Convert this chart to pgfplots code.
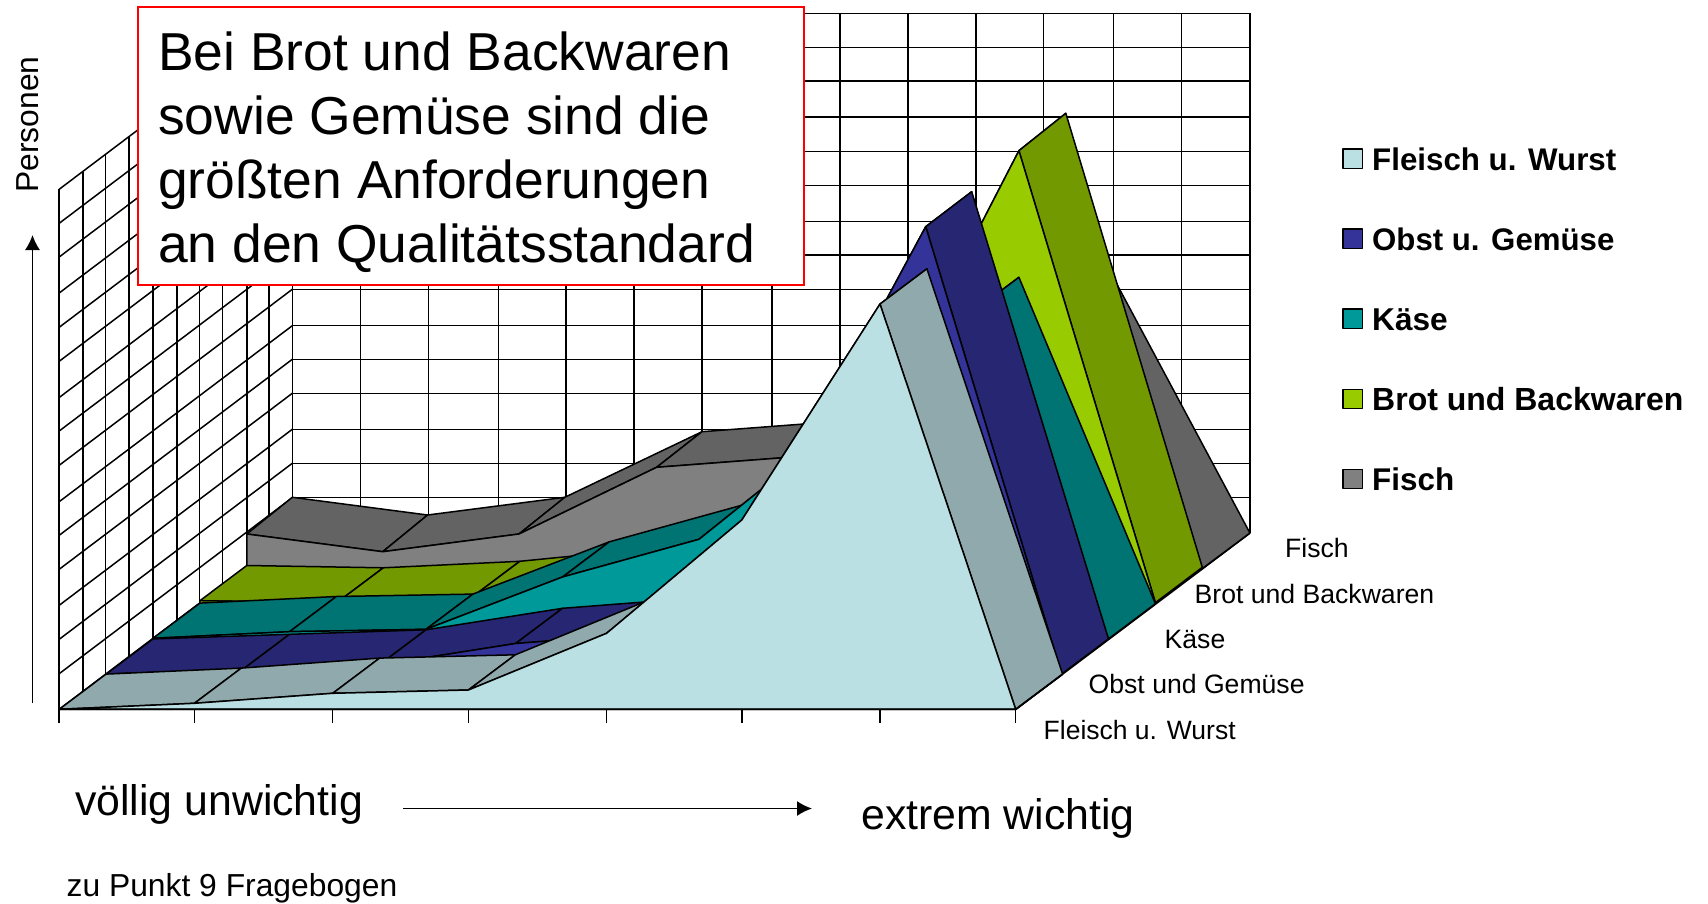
\documentclass[border=0pt]{standalone}
\usepackage{fontspec}
\setmainfont{Liberation Sans}
\usepackage{pgfplots}
\pgfplotsset{compat=1.18}
\usetikzlibrary{arrows.meta}

\definecolor{cA}{HTML}{BBE0E3}\definecolor{dA}{HTML}{8FA9AC}
\definecolor{cB}{HTML}{333399}\definecolor{dB}{HTML}{262673}
\definecolor{cC}{HTML}{009999}\definecolor{dC}{HTML}{007373}
\definecolor{cD}{HTML}{99CC00}\definecolor{dD}{HTML}{739900}
\definecolor{cE}{HTML}{808080}\definecolor{dE}{HTML}{636363}

\pgfplotsset{
  gl/.style={black, line width=1.5pt, forget plot},
  face/.style={draw=black, fill=#1, line width=1.5pt, line join=round, forget plot},
}
% text placed with baseline at a pixel position
\newcommand{\lbl}[4]{\node[anchor=base west, inner sep=0pt, font=\fontsize{#1}{#1}\selectfont] at (axis cs:#2,#3) {#4};}

\begin{document}
\begin{tikzpicture}
\begin{axis}[
  scale only axis, width=1708pt, height=904pt,
  xmin=0, xmax=1708, ymin=0, ymax=904,
  y dir=reverse, hide axis, clip=false,
]
\addplot[draw=none, forget plot] coordinates {(0,0) (1708,904)};

% back wall
\pgfplotsinvokeforeach{292.3,360.7,428.6,498.5,565.8,634.2,702,772,840,908,976,1043.7,1113.7,1181.7,1250}{
  \addplot[gl] coordinates {(#1,13.3) (#1,533)};
}
\pgfplotsinvokeforeach{13.3,47.3,81,117,151.3,185.3,221.5,255,289.3,325.7,359.3,393.3,429.3,463.3,497.7,533}{
  \addplot[gl] coordinates {(292.3,#1) (1250,#1)};
}
% side wall
\addplot[gl] coordinates {(59.2,189.3) (59.2,709.3)};
\addplot[gl] coordinates {(83.2,171.7) (83.2,691.7)};
\addplot[gl] coordinates {(105.6,154.1) (105.6,674.1)};
\addplot[gl] coordinates {(129,136.5) (129,656.5)};
\addplot[gl] coordinates {(153,118.9) (153,638.9)};
\addplot[gl] coordinates {(177,101.3) (177,621.3)};
\addplot[gl] coordinates {(199.5,83.7) (199.5,603.7)};
\addplot[gl] coordinates {(222.4,66.1) (222.4,586.1)};
\addplot[gl] coordinates {(247,48.5) (247,568.5)};
\addplot[gl] coordinates {(268.9,30.9) (268.9,550.9)};
\addplot[gl] coordinates {(59.2,189.3) (292.3,13.3)};
\addplot[gl] coordinates {(59.2,223.3) (292.3,47.3)};
\addplot[gl] coordinates {(59.2,257) (292.3,81)};
\addplot[gl] coordinates {(59.2,293) (292.3,117)};
\addplot[gl] coordinates {(59.2,327.3) (292.3,151.3)};
\addplot[gl] coordinates {(59.2,361.3) (292.3,185.3)};
\addplot[gl] coordinates {(59.2,397.5) (292.3,221.5)};
\addplot[gl] coordinates {(59.2,431) (292.3,255)};
\addplot[gl] coordinates {(59.2,465.3) (292.3,289.3)};
\addplot[gl] coordinates {(59.2,501.7) (292.3,325.7)};
\addplot[gl] coordinates {(59.2,535.3) (292.3,359.3)};
\addplot[gl] coordinates {(59.2,569.3) (292.3,393.3)};
\addplot[gl] coordinates {(59.2,605.3) (292.3,429.3)};
\addplot[gl] coordinates {(59.2,639.3) (292.3,463.3)};
\addplot[gl] coordinates {(59.2,673.7) (292.3,497.7)};
\addplot[gl] coordinates {(59.2,709.3) (292.3,533)};
% floor edges and ticks
\addplot[gl, line width=1.7pt] coordinates {(1015.7,709.3) (1250,533)};
\pgfplotsinvokeforeach{59.2,194.4,332.7,468.4,606.6,741.8,880,1015.7}{
  \addplot[gl] coordinates {(#1,709.3) (#1,722.5)};
}

% Fisch
\addplot[face=dE] coordinates {(246.8,534) (382.7,551.7) (427.6,515) (292.3,497.3)} -- cycle;
\addplot[face=dE] coordinates {(382.7,551.7) (519,534) (564.8,497.3) (427.6,515)} -- cycle;
\addplot[face=dE] coordinates {(519,534) (656.6,467.3) (702,431.7) (564.8,497.3)} -- cycle;
\addplot[face=dE] coordinates {(656.6,467.3) (792.8,457) (839.7,421.3) (702,431.7)} -- cycle;
\addplot[face=dE] coordinates {(792.8,457) (929.3,430) (976.2,395) (839.7,421.3)} -- cycle;
\addplot[face=dE] coordinates {(929.3,430) (1065.8,311.6) (1112.7,276.4) (976.2,395)} -- cycle;
\addplot[face=dE] coordinates {(1065.8,311.6) (1202.3,568.5) (1249.9,533) (1112.7,276.4)} -- cycle;
\addplot[face=cE] coordinates {(246.8,568.5) (246.8,534) (382.7,551.7) (519,534) (656.6,467.3) (792.8,457) (929.3,430) (1065.8,311.6) (1202.3,568.5)} -- cycle;

% Brot und Backwaren
\addplot[face=dD] coordinates {(199.9,600.7) (336.4,603) (383.3,567.8) (246.8,565.5)} -- cycle;
\addplot[face=dD] coordinates {(336.4,603) (472.9,596.5) (519.8,561.3) (383.3,567.8)} -- cycle;
\addplot[face=dD] coordinates {(472.9,596.5) (609.4,583) (656.3,547.8) (519.8,561.3)} -- cycle;
\addplot[face=dD] coordinates {(609.4,583) (745.9,548) (792.8,512.8) (656.3,547.8)} -- cycle;
\addplot[face=dD] coordinates {(745.9,548) (882.4,415.5) (929.3,380.3) (792.8,512.8)} -- cycle;
\addplot[face=dD] coordinates {(882.4,415.5) (1018.9,150.7) (1065.8,113.3) (929.3,380.3)} -- cycle;
\addplot[face=dD] coordinates {(1018.9,150.7) (1155.4,602.7) (1202.3,567.3) (1065.8,113.3)} -- cycle;
\addplot[face=cD] coordinates {(199.9,603.7) (199.9,600.7) (336.4,603) (472.9,596.5) (609.4,583) (745.9,548) (882.4,415.5) (1018.9,150.7) (1155.4,602.7)} -- cycle;

% Kaese
\addplot[face=dC] coordinates {(153,638.3) (289.5,631.7) (336.4,596.5) (199.9,603.1)} -- cycle;
\addplot[face=dC] coordinates {(289.5,631.7) (426,629.3) (472.9,594.1) (336.4,596.5)} -- cycle;
\addplot[face=dC] coordinates {(426,629.3) (562.5,577) (609.4,541.8) (472.9,594.1)} -- cycle;
\addplot[face=dC] coordinates {(562.5,577) (699,539.3) (745.9,504.1) (609.4,541.8)} -- cycle;
\addplot[face=dC] coordinates {(699,539.3) (835.5,430) (882.4,394.8) (745.9,504.1)} -- cycle;
\addplot[face=dC] coordinates {(835.5,430) (972,312.5) (1018.9,277.3) (882.4,394.8)} -- cycle;
\addplot[face=dC] coordinates {(972,312.5) (1108.5,638.9) (1155.4,603.7) (1018.9,277.3)} -- cycle;
\addplot[face=cC] coordinates {(153,638.9) (153,638.3) (289.5,631.7) (426,629.3) (562.5,577) (699,539.3) (835.5,430) (972,312.5) (1108.5,638.9)} -- cycle;

% Obst und Gemuese
\addplot[face=dB] coordinates {(106.1,674.1) (242.6,669.5) (289.5,634.3) (153,638.9)} -- cycle;
\addplot[face=dB] coordinates {(242.6,669.5) (379.1,665) (426,629.8) (289.5,634.3)} -- cycle;
\addplot[face=dB] coordinates {(379.1,665) (515.6,643.5) (562.5,608.3) (426,629.8)} -- cycle;
\addplot[face=dB] coordinates {(515.6,643.5) (652.1,633) (699,597.8) (562.5,608.3)} -- cycle;
\addplot[face=dB] coordinates {(652.1,633) (788.6,481) (835.5,445.8) (699,597.8)} -- cycle;
\addplot[face=dB] coordinates {(788.6,481) (925.7,226.7) (971.7,191.7) (835.5,445.8)} -- cycle;
\addplot[face=dB] coordinates {(925.7,226.7) (1061.6,674.1) (1108.5,638.9) (971.7,191.7)} -- cycle;
\addplot[face=cB] coordinates {(106.1,674.1) (242.6,669.5) (379.1,665) (515.6,643.5) (652.1,633) (788.6,481) (925.7,226.7) (1061.6,674.1)} -- cycle;

% Fleisch u. Wurst
\addplot[face=dA] coordinates {(59.2,709.3) (194.4,703.3) (241.3,668.1) (106.1,674.1)} -- cycle;
\addplot[face=dA] coordinates {(194.4,703.3) (332.7,693.3) (379.6,658.1) (241.3,668.1)} -- cycle;
\addplot[face=dA] coordinates {(332.7,693.3) (468.4,690) (515.3,654.8) (379.6,658.1)} -- cycle;
\addplot[face=dA] coordinates {(468.4,690) (606.6,633.3) (653.5,598.1) (515.3,654.8)} -- cycle;
\addplot[face=dA] coordinates {(606.6,633.3) (741.8,520) (788.7,484.8) (653.5,598.1)} -- cycle;
\addplot[face=dA] coordinates {(741.8,520) (880,304) (926.9,268.8) (788.7,484.8)} -- cycle;
\addplot[face=dA] coordinates {(880,304) (1015.7,709.3) (1062.6,674.1) (926.9,268.8)} -- cycle;
\addplot[face=cA] coordinates {(59.2,709.3) (194.4,703.3) (332.7,693.3) (468.4,690) (606.6,633.3) (741.8,520) (880,304) (1015.7,709.3)} -- cycle;
\addplot[gl, line width=1.7pt] coordinates {(59.2,709.3) (1015.7,709.3) (1062.6,674.1)};

% callout
\addplot[draw=red, fill=white, line width=1.8pt, forget plot] coordinates {(138,7.3) (804,7.3) (804,285) (138,285)} -- cycle;
\lbl{53.4}{158}{71}{Bei Brot und Backwaren}
\lbl{53.4}{158}{134.5}{sowie Gemüse sind die}
\lbl{53.4}{158}{199}{größten Anforderungen}
\lbl{53.4}{158}{262.5}{an den Qualitätsstandard}

% legend
\addplot[face=cA] coordinates {(1343,149) (1362.3,149) (1362.3,168.3) (1343,168.3)} -- cycle;
\addplot[face=cB] coordinates {(1343,229) (1362.3,229) (1362.3,248.3) (1343,248.3)} -- cycle;
\addplot[face=cC] coordinates {(1343,309) (1362.3,309) (1362.3,328.3) (1343,328.3)} -- cycle;
\addplot[face=cD] coordinates {(1343,389.3) (1362.3,389.3) (1362.3,408.7) (1343,408.7)} -- cycle;
\addplot[face=cE] coordinates {(1343,469.3) (1362.3,469.3) (1362.3,488.3) (1343,488.3)} -- cycle;
\lbl{31.3}{1372}{170.5}{\bfseries Fleisch u. Wurst}
\lbl{31.2}{1372}{250.5}{\bfseries Obst u. Gemüse}
\lbl{31.6}{1372}{330}{\bfseries Käse}
\lbl{32}{1372}{410}{\bfseries Brot und Backwaren}
\lbl{31.4}{1372}{490}{\bfseries Fisch}

% depth axis labels
\lbl{26.5}{1043.5}{739}{Fleisch u. Wurst}
\lbl{26.6}{1088.5}{693.3}{Obst und Gemüse}
\lbl{26.6}{1164.5}{648.7}{Käse}
\lbl{26.6}{1194.5}{603.7}{Brot und Backwaren}
\lbl{26.6}{1285}{557}{Fisch}

% hand-drawn axis captions
\addplot[black, line width=1.5pt, forget plot, -{Latex[length=15pt,width=15pt]}] coordinates {(32.5,703) (32.5,235)};
\addplot[black, line width=1.6pt, forget plot, -{Latex[length=15pt,width=15pt]}] coordinates {(403,808.5) (812,808.5)};
\node[rotate=90, anchor=base, inner sep=0pt, font=\fontsize{31.8}{31.8}\selectfont] at (axis cs:38,124.5) {Personen};
\lbl{42.8}{75}{815}{völlig unwichtig}
\lbl{42.8}{861}{829.5}{extrem wichtig}
\lbl{31.8}{66.5}{896}{zu Punkt 9 Fragebogen}
\end{axis}
\end{tikzpicture}
\end{document}
